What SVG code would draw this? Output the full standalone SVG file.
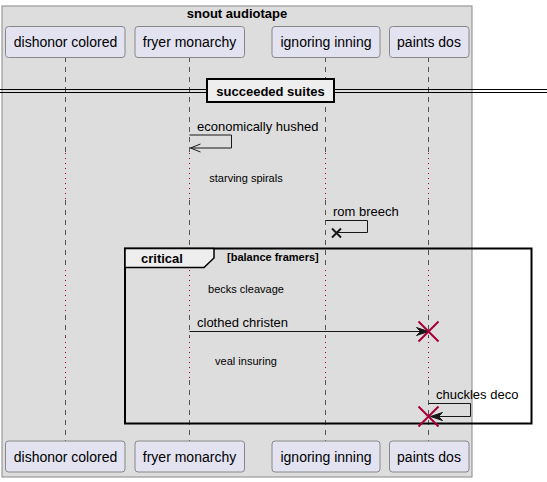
<svg xmlns="http://www.w3.org/2000/svg" width="547" height="482" viewBox="0 0 547 482">
<style>
text{font-family:"Liberation Sans",Arial,sans-serif;fill:#000}
.pbox{fill:#E2E2F0;stroke:#888;stroke-width:1}
.pl{font-size:14px;text-anchor:middle}
.msg{font-size:13px}
.dl{font-size:11px;text-anchor:middle}
.life{stroke:#555;stroke-width:1;stroke-dasharray:5,5;fill:none}
.dot{stroke:#A80036;stroke-width:1;stroke-dasharray:1,4;fill:none}
.ln{stroke:#181818;stroke-width:1;fill:none}
.rx{stroke:#A80036;stroke-width:2}
.b{font-weight:bold}
</style>
<rect x="2" y="6" width="470" height="471" fill="#DDDDDD" stroke="#888" stroke-width="1"/>
<text x="237" y="18" class="b" font-size="13" text-anchor="middle">snout audiotape</text>
<g id="connectors">
<g id="lifelines">
<path class="life" d="M65.5 57V153M65.5 200V270M65.5 315V337M65.5 380V441"/>
<path class="life" d="M189.5 57V153M189.5 200V270M189.5 315V337M189.5 380V441"/>
<path class="life" d="M325.5 57V153M325.5 200V270M325.5 315V337M325.5 380V441"/>
<path class="life" d="M428.5 57V153M428.5 200V270M428.5 315V337M428.5 380V441"/>
<path class="dot" d="M65.5 153V200M189.5 153V200M325.5 153V200M428.5 153V200"/>
<path class="dot" d="M65.5 270V315M189.5 270V315M325.5 270V315M428.5 270V315"/>
<path class="dot" d="M65.5 337V380M189.5 337V380M325.5 337V380M428.5 337V380"/>
</g>
<g id="divider">
<path d="M0 89.5H547M0 92.5H547" stroke="#000" stroke-width="1"/>
<rect x="207" y="79" width="127" height="23" fill="#EEEEEE" stroke="#000" stroke-width="2"/>
<text x="270.5" y="96" class="b" font-size="13" text-anchor="middle">succeeded suites</text>
</g>
<g id="m1">
<path class="ln" d="M189.5 135H231.5V148H190.5"/>
<path class="ln" d="M200.5 144L190.5 148L200.5 152"/>
<text x="197" y="131" class="msg">economically hushed</text>
</g>
<text x="246" y="182" class="dl">starving spirals</text>
<g id="m2">
<path class="ln" d="M325.5 220.5H367.5V232.5H337"/>
<path d="M332 228.5L341 237.5M341 228.5L332 237.5" stroke="#181818" stroke-width="2"/>
<text x="333" y="216" class="msg">rom breech</text>
</g>
<g id="critical">
<rect x="125" y="248.5" width="406.5" height="175" fill="none" stroke="#000" stroke-width="2"/>
<path d="M125 248.5H214V258L204 267.5H125Z" fill="#EEEEEE" stroke="#000" stroke-width="1.5"/>
<text x="141" y="263" class="b" font-size="13">critical</text>
<text x="227" y="261" class="b" font-size="11">[balance framers]</text>
</g>
<text x="246" y="293" class="dl">becks cleavage</text>
<g id="m3">
<path class="ln" d="M189.5 331.5H426"/>
<path d="M416.5 327.5L428.5 331.5L416.5 335.5L420.5 331.5Z" fill="#181818" stroke="#181818" stroke-width="1"/>
<path class="rx" d="M418.5 321.5L438.5 341.5M438.5 321.5L418.5 341.5"/>
<text x="197" y="327" class="msg">clothed christen</text>
</g>
<text x="246" y="365" class="dl">veal insuring</text>
<g id="m4">
<path class="ln" d="M428.5 403.5H470.5V416.5H431"/>
<path d="M442.5 412.5L430.5 416.5L442.5 420.5L438.5 416.5Z" fill="#181818" stroke="#181818" stroke-width="1"/>
<path class="rx" d="M418.5 406.5L438.5 426.5M438.5 406.5L418.5 426.5"/>
<text x="436" y="399" class="msg">chuckles deco</text>
</g>
</g>
<g id="p-dishonor-colored">
<rect class="pbox" x="5.5" y="26.5" width="119.5" height="31" rx="3"/>
<rect class="pbox" x="5.5" y="441" width="119.5" height="31" rx="3"/>
<text x="65.5" y="47" class="pl">dishonor colored</text>
<text x="65.5" y="462" class="pl">dishonor colored</text>
</g>
<g id="p-fryer-monarchy">
<rect class="pbox" x="135" y="26.5" width="109.5" height="31" rx="3"/>
<rect class="pbox" x="135" y="441" width="109.5" height="31" rx="3"/>
<text x="189.5" y="47" class="pl">fryer monarchy</text>
<text x="189.5" y="462" class="pl">fryer monarchy</text>
</g>
<g id="p-ignoring-inning">
<rect class="pbox" x="272" y="26.5" width="108" height="31" rx="3"/>
<rect class="pbox" x="272" y="441" width="108" height="31" rx="3"/>
<text x="326" y="47" class="pl">ignoring inning</text>
<text x="326" y="462" class="pl">ignoring inning</text>
</g>
<g id="p-paints-dos">
<rect class="pbox" x="389.5" y="26.5" width="79.5" height="31" rx="3"/>
<rect class="pbox" x="389.5" y="441" width="79.5" height="31" rx="3"/>
<text x="429" y="47" class="pl">paints dos</text>
<text x="429" y="462" class="pl">paints dos</text>
</g>
</svg>
